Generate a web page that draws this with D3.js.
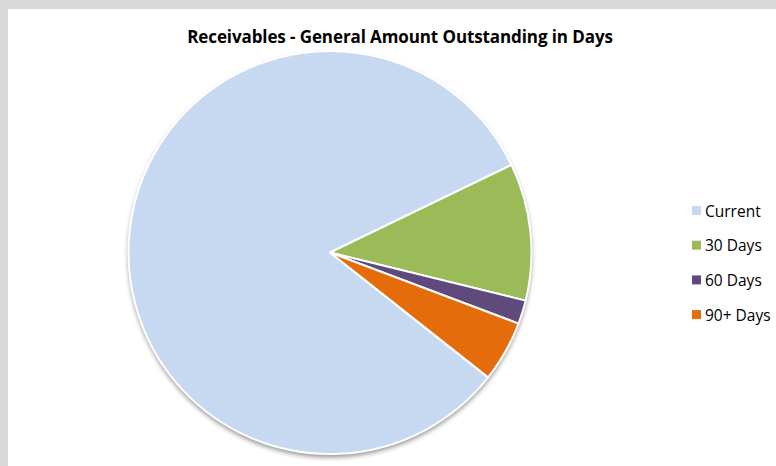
<!DOCTYPE html>
<html>
<head>
<meta charset="utf-8">
<script src="https://cdn.jsdelivr.net/npm/d3@7"></script>
<style>
  body { margin: 0; background: #d9d9d9; }
  svg { display: block; }
</style>
</head>
<body>
<div id="chart"></div>
<script>
"use strict";

var categories = ["Current", "30 Days", "60 Days", "90+ Days"];
var values = [82.2, 11.0, 1.9, 4.9];
var colors = ["#c6d9f1", "#9bbb59", "#604a7b", "#e46c0a"];
var title = "Receivables - General Amount Outstanding in Days";

var width = 776, height = 466;
var svg = d3.select("#chart").append("svg")
    .attr("width", width)
    .attr("height", height);

// grey frame top/left, white plot area
svg.append("rect")
    .attr("width", width).attr("height", height)
    .attr("fill", "#d9d9d9");
svg.append("rect")
    .attr("x", 8).attr("y", 9)
    .attr("width", width - 8).attr("height", height - 9)
    .attr("fill", "#fff");

var defs = svg.append("defs");
var filter = defs.append("filter").attr("id", "shadow")
    .attr("x", "-10%").attr("y", "-10%").attr("width", "120%").attr("height", "120%");
filter.append("feGaussianBlur").attr("in", "SourceAlpha").attr("stdDeviation", 2.5);
filter.append("feOffset").attr("dx", 0).attr("dy", 3).attr("result", "blur");
filter.append("feComponentTransfer").append("feFuncA").attr("type", "linear").attr("slope", 0.45);
var merge = filter.append("feMerge");
merge.append("feMergeNode");
merge.append("feMergeNode").attr("in", "SourceGraphic");

svg.append("text")
    .attr("x", 400)
    .attr("y", 43)
    .attr("text-anchor", "middle")
    .style("font-family", "'Open Sans', sans-serif")
    .style("font-weight", "bold")
    .style("font-size", "17px")
    .style("letter-spacing", "-0.1px")
    .attr("fill", "#000")
    .text(title);

var cx = 330, cy = 252.5, r = 201.5;
// first slice starts at ~128 degrees, going clockwise
var startRad = 128.3 * Math.PI / 180;
var pie = d3.pie().sort(null)
    .startAngle(startRad)
    .endAngle(startRad + 2 * Math.PI);
var arc = d3.arc().innerRadius(0).outerRadius(r);

var g = svg.append("g")
    .attr("transform", "translate(" + cx + "," + cy + ")");
g.append("circle").attr("r", r).attr("fill", "#fff").attr("filter", "url(#shadow)");
g.selectAll("path")
  .data(pie(values))
  .enter()
  .append("path")
    .attr("d", arc)
    .attr("fill", function (d, i) { return colors[i]; })
    .attr("stroke", "#fff")
    .attr("stroke-width", 2)
    .attr("stroke-linejoin", "round");

var legend = svg.append("g").attr("transform", "translate(692, 211)");
var item = legend.selectAll("g")
  .data(categories)
  .enter()
  .append("g")
    .attr("transform", function (d, i) { return "translate(0," + (i * 34.7) + ")"; });
item.append("rect")
    .attr("x", 0).attr("y", -5)
    .attr("width", 9).attr("height", 9)
    .attr("fill", function (d, i) { return colors[i]; });
item.append("text")
    .attr("x", 13)
    .attr("y", 5.5)
    .style("font-family", "'Open Sans', sans-serif")
    .style("font-size", "15.5px")
    .attr("fill", "#000")
    .text(function (d) { return d; });
</script>
</body>
</html>
